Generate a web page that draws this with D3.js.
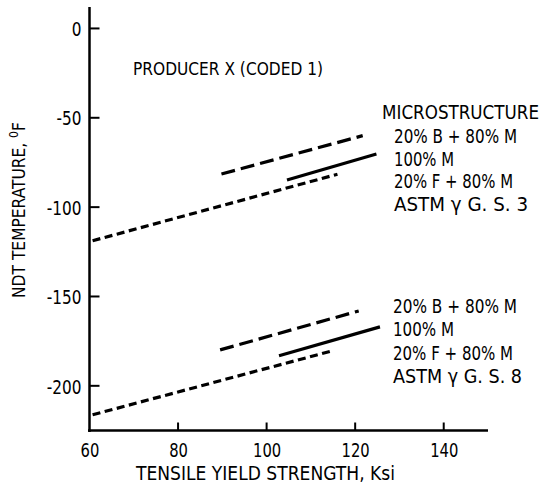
<!DOCTYPE html>
<html>
<head>
<meta charset="utf-8">
<script src="https://cdn.jsdelivr.net/npm/d3@7"></script>
<style>
  html, body { margin: 0; padding: 0; background: #fff; }
  svg text { font-family: "DejaVu Sans Condensed", "Liberation Sans Narrow", "Liberation Sans", sans-serif; fill: #000; }
</style>
</head>
<body>
<svg id="chart" width="543" height="486"></svg>
<script>
// ---- data ----
const xTicks = [60, 80, 100, 120, 140];
const yTicks = [0, -50, -100, -150, -200];

// Grain size 3 (upper group)
const gs3Bainite = [[89.8, -81.5], [121.7, -60.0]];   // 20% B + 80% M (long dash)
const gs3Martensite = [[104.6, -84.8], [124.8, -70.3]]; // 100% M (solid)
const gs3Ferrite = [[60.7, -118.8], [116.0, -81.6]];  // 20% F + 80% M (short dash)

// Grain size 8 (lower group)
const gs8Bainite = [[89.5, -179.9], [120.8, -158.1]];
const gs8Martensite = [[102.8, -183.2], [125.6, -167.0]];
const gs8Ferrite = [[60.7, -216.2], [115.0, -180.3]];

const legendUpper = ["20% B + 80% M", "100% M", "20% F + 80% M", "ASTM \u03B3 G. S. 3"];
const legendLower = ["20% B + 80% M", "100% M", "20% F + 80% M", "ASTM \u03B3 G. S. 8"];

const upperWidths = [123, 60, 119, 134];
const lowerWidths = [124, 61, 120, 129];

// ---- drawing ----
const svg = d3.select("#chart");
const x = d3.scaleLinear().domain([60, 150]).range([89.5, 488]);
const y = d3.scaleLinear().domain([-225, 12]).range([430.5, 7]);

const g = svg.append("g");
const fmt = d => String(d); // plain hyphen-minus, like the original

function squeeze(sel, factor) {
  sel.each(function () {
    const w = this.getComputedTextLength();
    d3.select(this).attr("textLength", w * factor).attr("lengthAdjust", "spacingAndGlyphs");
  });
}

// axes labels
const xAxis = d3.axisBottom(x).tickValues(xTicks).tickSize(0).tickPadding(12).tickFormat(fmt);
const gx = g.append("g").attr("transform", `translate(0,${y(-225)})`).call(xAxis);
gx.select(".domain").remove();
gx.selectAll("text").attr("font-size", 20).attr("dy", "0.71em");
squeeze(gx.selectAll("text"), 0.82);

const yAxis = d3.axisLeft(y).tickValues(yTicks).tickSize(0).tickPadding(8).tickFormat(fmt);
const gy = g.append("g").attr("transform", `translate(${x(60)},0)`).call(yAxis);
gy.select(".domain").remove();
gy.selectAll("text").attr("font-size", 20).attr("dy", "0.36em");
squeeze(gy.selectAll("text"), 0.85);

// axis lines
g.append("line").attr("x1", x(60)).attr("x2", x(60)).attr("y1", y(12)).attr("y2", y(-225) + 1.5)
  .attr("stroke", "#000").attr("stroke-width", 2.5);
g.append("line").attr("x1", x(60) - 1.5).attr("x2", x(150)).attr("y1", y(-225)).attr("y2", y(-225))
  .attr("stroke", "#000").attr("stroke-width", 2.5);

// inward ticks
g.selectAll(".xt").data(xTicks.filter(d => d > 60)).enter().append("line")
  .attr("x1", d => x(d)).attr("x2", d => x(d)).attr("y1", y(-225)).attr("y2", y(-225) - 8)
  .attr("stroke", "#000").attr("stroke-width", 2);
g.selectAll(".yt").data(yTicks).enter().append("line")
  .attr("x1", x(60)).attr("x2", x(60) + 10).attr("y1", d => y(d)).attr("y2", d => y(d))
  .attr("stroke", "#000").attr("stroke-width", 2);

// series lines
const line = d3.line().x(d => x(d[0])).y(d => y(d[1]));
const series = [
  { data: gs3Bainite, dash: "14,6" },
  { data: gs3Martensite, dash: null },
  { data: gs3Ferrite, dash: "8,4.5" },
  { data: gs8Bainite, dash: "14,6" },
  { data: gs8Martensite, dash: null },
  { data: gs8Ferrite, dash: "8,4.5" }
];
series.forEach(s => {
  g.append("path").attr("d", line(s.data)).attr("fill", "none")
    .attr("stroke", "#000").attr("stroke-width", 3.2)
    .attr("stroke-dasharray", s.dash);
});

// titles
g.append("text").attr("x", 133).attr("y", 75).attr("font-size", 17)
  .attr("textLength", 190).attr("lengthAdjust", "spacingAndGlyphs")
  .text("PRODUCER X (CODED 1)");

g.append("text").attr("x", 382).attr("y", 119).attr("font-size", 19)
  .attr("textLength", 157).attr("lengthAdjust", "spacingAndGlyphs")
  .text("MICROSTRUCTURE");
legendUpper.forEach((t, i) => {
  g.append("text").attr("x", 394).attr("y", 143 + i * 22.5).attr("font-size", 19.5)
    .attr("textLength", upperWidths[i]).attr("lengthAdjust", "spacingAndGlyphs").text(t);
});
legendLower.forEach((t, i) => {
  g.append("text").attr("x", 393).attr("y", 313 + i * 23.3).attr("font-size", 19.5)
    .attr("textLength", lowerWidths[i]).attr("lengthAdjust", "spacingAndGlyphs").text(t);
});

// axis titles
g.append("text").attr("x", 136).attr("y", 480).attr("font-size", 20)
  .attr("textLength", 259).attr("lengthAdjust", "spacingAndGlyphs")
  .text("TENSILE YIELD STRENGTH, Ksi");

const yt = g.append("text").attr("transform", "translate(25,298) rotate(-90)")
  .attr("font-size", 17).attr("textLength", 176).attr("lengthAdjust", "spacingAndGlyphs");
yt.append("tspan").text("NDT TEMPERATURE, ");
yt.append("tspan").attr("font-size", 12).attr("dy", -7).text("0");
yt.append("tspan").attr("dy", 7).text("F");
</script>
</body>
</html>
